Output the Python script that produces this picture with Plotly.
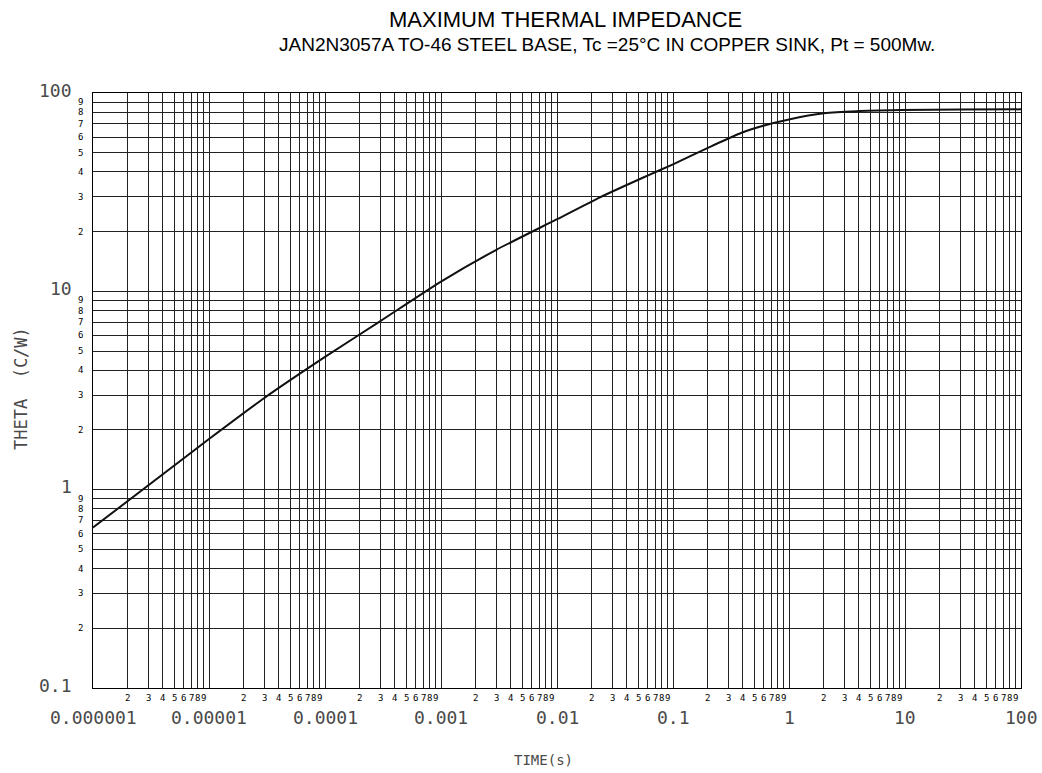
import plotly.graph_objects as go
import numpy as np

# Thermal impedance curve: time (s) vs theta (C/W)
time_s = [1e-6, 1e-5, 3e-5, 1e-4, 3e-4, 1e-3, 3e-3, 1e-2, 2.35e-2, 5.9e-2,
          1e-1, 2.2e-1, 3.9e-1, 6e-1, 1, 2, 3.8, 9, 30, 100]
theta = [0.644, 1.80, 2.90, 4.67, 7.08, 11.2, 16.2, 23.1, 29.8, 38.1,
         43.7, 54.3, 63.0, 68.4, 73.6, 79.0, 81.0, 82.0, 82.5, 82.7]

# Axis decades and labels
x_decades = [1e-6, 1e-5, 1e-4, 1e-3, 1e-2, 1e-1, 1, 10, 100]
x_decade_labels = ["0.000001", "0.00001", "0.0001", "0.001", "0.01", "0.1", "1", "10", "100"]
y_decades = [0.1, 1, 10, 100]
y_decade_labels = ["0.1", "1", "10", "100"]
minor_digits = [2, 3, 4, 5, 6, 7, 8, 9]

x_grid = [d * m for d in x_decades[:-1] for m in range(1, 10)] + [x_decades[-1]]
y_grid = [d * m for d in y_decades[:-1] for m in range(1, 10)] + [y_decades[-1]]

mono = "DejaVu Sans Mono"
ink = "#222222"
label_grey = "#4a4a4a"

L, R, T, B = 93, 21, 93, 85
W, H = 1042, 773
pw, ph = W - L - R, H - T - B


def paper_x(px):
    return (px - L) / pw


def paper_y(py):
    return 1 + (T - py) / ph


fig = go.Figure()
fig.add_trace(go.Scatter(x=time_s, y=theta, mode="lines",
                         line=dict(color="#111111", width=2, shape="spline", smoothing=0.6),
                         showlegend=False))

annotations = []
# x-axis minor labels (2..9) and decade labels
for d in x_decades[:-1]:
    for m in minor_digits:
        annotations.append(dict(x=np.log10(d * m), y=0, xref="x", yref="paper",
                                text=str(m), showarrow=False, yanchor="middle", yshift=-10,
                                font=dict(family=mono, size=9, color="#000")))
for d, lab in zip(x_decades, x_decade_labels):
    annotations.append(dict(x=np.log10(d), y=0, xref="x", yref="paper",
                            text=lab, showarrow=False, yanchor="middle", yshift=-29,
                            font=dict(family=mono, size=18, color=label_grey)))
# y-axis minor labels and decade labels
for d in y_decades[:-1]:
    for m in minor_digits:
        annotations.append(dict(x=0, y=np.log10(d * m), xref="paper", yref="y",
                                text=str(m), showarrow=False, xanchor="center",
                                xshift=-13, yanchor="middle",
                                font=dict(family=mono, size=9, color="#000")))
for d, lab in zip(y_decades, y_decade_labels):
    annotations.append(dict(x=0, y=np.log10(d), xref="paper", yref="y",
                            text=lab, showarrow=False, xanchor="right",
                            xshift=-19, yshift=3, yanchor="middle",
                            font=dict(family=mono, size=18, color=label_grey)))

# chart titles
annotations.append(dict(x=paper_x(565), y=paper_y(19), xref="paper", yref="paper",
                        text="MAXIMUM THERMAL IMPEDANCE", showarrow=False,
                        xanchor="center", yanchor="middle",
                        font=dict(family="Liberation Sans", size=22, color="#000")))
annotations.append(dict(x=paper_x(607), y=paper_y(44), xref="paper", yref="paper",
                        text="JAN2N3057A TO-46 STEEL BASE, Tc =25°C IN COPPER SINK, Pt = 500Mw.",
                        showarrow=False, xanchor="center", yanchor="middle",
                        font=dict(family="Liberation Sans", size=19, color="#000")))

# axis titles
annotations.append(dict(x=paper_x(543), y=paper_y(760), xref="paper", yref="paper",
                        text="TIME(s)", showarrow=False, xanchor="center", yanchor="middle",
                        font=dict(family=mono, size=14, color=label_grey)))
annotations.append(dict(x=paper_x(21), y=paper_y(389), xref="paper", yref="paper",
                        text="THETA  (C/W)", showarrow=False, textangle=-90,
                        xanchor="center", yanchor="middle",
                        font=dict(family=mono, size=17, color=label_grey)))

axis_common = dict(type="log", showticklabels=False, ticks="", showgrid=True,
                   gridcolor=ink, gridwidth=1, showline=True, linecolor="#000",
                   linewidth=1, mirror=True, zeroline=False)

fig.update_layout(
    width=W, height=H,
    margin=dict(l=L, r=R, t=T, b=B),
    paper_bgcolor="white", plot_bgcolor="white",
    xaxis=dict(range=[-6, 2], tickvals=x_grid, **axis_common),
    yaxis=dict(range=[-1, 2], tickvals=y_grid, **axis_common),
    annotations=annotations,
    showlegend=False,
)

fig.write_html("out.html")
